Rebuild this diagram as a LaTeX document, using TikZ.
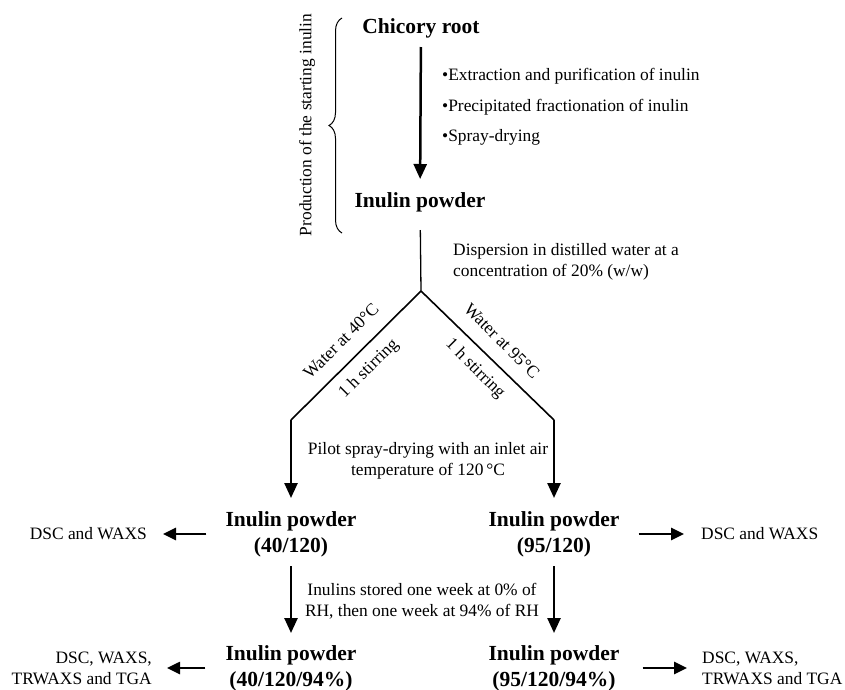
\documentclass[tikz,border=0pt]{standalone}
\usepackage{fontspec}
\setmainfont{Liberation Serif}
\usetikzlibrary{arrows.meta,decorations.pathreplacing}
\begin{document}
\begin{tikzpicture}[x=1pt,y=-1pt,
  bold/.style={font=\fontsize{21.5}{26}\selectfont\bfseries, align=center, inner sep=0pt},
  txt/.style={font=\fontsize{17.4}{21}\selectfont, inner sep=0pt},
  arr/.style={line width=2.5pt, -{Triangle[width=13pt,length=15pt]}},
  harr/.style={line width=2.6pt, -{Triangle[width=12pt,length=13pt]}},
  thinline/.style={line width=1.3pt},
  diag/.style={line width=1.6pt}]
\useasboundingbox (0,0) rectangle (845,689);

% top part
\node[bold] (chic) at (421,28) {Chicory root};
\node[bold] (ip) at (420,202) {Inulin powder};
\draw[arr, shorten <=19pt, shorten >=23pt] (chic.center) -- (ip.center);

\node[txt, anchor=west] (b1) at (442,76) {•Extraction and purification of inulin};
\node[txt, anchor=west] (b2) at (442,107) {•Precipitated fractionation of inulin};
\node[txt, anchor=west] (b3) at (442,137) {•Spray-drying};

\coordinate (bracebot) at (342,233);
\coordinate (bracetop) at (342,18);
\draw[decorate, decoration={brace, amplitude=13pt}, line width=1pt] (bracebot) -- (bracetop);
\node[txt, rotate=90] (prod) at (307,125) {Production of the starting inulin};

% dispersion
\node[txt, anchor=west, align=left] (disp) at (453,262) {Dispersion in distilled water at a\\concentration of 20\% (w/w)};
\coordinate (j) at (421,291);
\coordinate (lc) at (291,420);
\coordinate (rc) at (554,420);
\draw[thinline, shorten <=28pt] (ip.center) -- (j);
\draw[diag] (j) -- (lc);
\draw[diag] (j) -- (rc);

\node[txt, rotate=45] (w40) at (341,341) {Water at 40°C};
\node[txt, rotate=45] (s40) at (369,369) {1 h stirring};
\node[txt, rotate=-45] (w95) at (502,341) {Water at 95°C};
\node[txt, rotate=-45] (s95) at (475,369) {1 h stirring};

\node[txt, align=center] (pilot) at (428,461) {Pilot spray-drying with an inlet air\\temperature of 120\,°C};

% middle row
\node[bold] (p40) at (291,534) {Inulin powder\\(40/120)};
\node[bold] (p95) at (554,534) {Inulin powder\\(95/120)};
\draw[arr, shorten >=36pt] (lc) -- (p40.center);
\draw[arr, shorten >=36pt] (rc) -- (p95.center);

\node[txt, anchor=east] (dl) at (147,534) {DSC and WAXS};
\node[txt, anchor=west] (dr) at (701,534) {DSC and WAXS};
\draw[harr, shorten <=19pt, shorten >=16pt] (p40.west) -- (dl.east);
\draw[harr, shorten <=19pt, shorten >=17pt] (p95.east) -- (dr.west);

\node[txt, align=center] (store) at (422,601) {Inulins stored one week at 0\% of\\RH, then one week at 94\% of RH};

% bottom row
\node[bold] (q40) at (291,668) {Inulin powder\\(40/120/94\%)};
\node[bold] (q95) at (554,668) {Inulin powder\\(95/120/94\%)};
\draw[arr, shorten <=32pt, shorten >=35pt] (p40.center) -- (q40.center);
\draw[arr, shorten <=32pt, shorten >=35pt] (p95.center) -- (q95.center);

\node[txt, anchor=east, align=right] (bl) at (152,668) {DSC, WAXS,\\TRWAXS and TGA};
\node[txt, anchor=west, align=left] (br) at (702,668) {DSC, WAXS,\\TRWAXS and TGA};
\draw[harr, shorten <=20pt, shorten >=15pt] (q40.west) -- (bl.east);
\draw[harr, shorten <=23pt, shorten >=15pt] (q95.east) -- (br.west);
\end{tikzpicture}
\end{document}
